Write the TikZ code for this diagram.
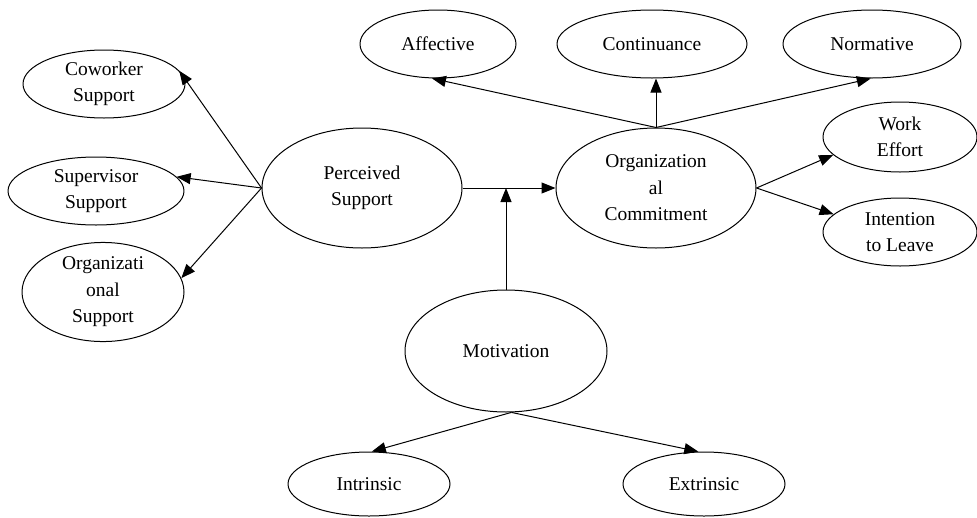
\documentclass[tikz,border=0pt]{standalone}
\usepackage{fontspec}
\setmainfont{Liberation Serif}
\usetikzlibrary{shapes.geometric, arrows.meta, calc}
\tikzset{>={Triangle[length=14pt, width=11pt]}}
\tikzset{every text node part/.style={align=center}}
\tikzset{bubble/.style={draw, ellipse, inner sep=0pt, font=\fontsize{19.5}{26.5}\selectfont}}
\newcommand{\bub}[5]{\node[bubble, minimum width=#3pt, minimum height=#4pt] (#1) at #2 {#5};}

\begin{document}
\begin{tikzpicture}[x=1pt, y=-1pt, line width=1pt, line join=round]
	\useasboundingbox (0,0) rectangle (977,517);

	% Support side
	\bub{cw}{(104,84)}{162}{68}{Coworker\\Support}
	\bub{sv}{(96,191)}{176}{68}{Supervisor\\Support}
	\bub{os}{(103,292)}{162}{82}{Organizati\\onal\\Support}
	\bub{ps}{(362,188)}{200}{120}{Perceived\\Support}

	% Commitment side
	\bub{oc}{(656,188)}{200}{120}{Organization\\al\\Commitment}
	\bub{af}{(438,44)}{156}{68}{Affective}
	\bub{co}{(652,44)}{190}{68}{Continuance}
	\bub{nm}{(872,44)}{178}{68}{Normative}
	\bub{we}{(900,137)}{154}{70}{Work\\Effort}
	\bub{il}{(900,232)}{154}{68}{Intention\\to Leave}

	% Motivation
	\bub{mo}{(506,351)}{202}{122}{Motivation}
	\bub{in}{(369,484)}{162}{64}{Intrinsic}
	\bub{ex}{(704,484)}{162}{64}{Extrinsic}

	% Arrows
	\draw[->] (ps.west) -- (cw.10);
	\draw[->] (ps.west) -- (sv.10);
	\draw[->] (ps.west) -- (os.10);
	\draw[->] (ps.east) -- (oc.west);
	\coordinate (join) at ($(ps.east)!(mo.north)!(oc.west)$);
	\draw[->] (mo.north) -- (join);

	\draw[->] (oc.north) -- (af.-100);
	\draw[->] (oc.north) -- (oc.north |- co.south);
	\draw[->] (oc.north) -- (nm.-92);
	\draw[->] (oc.east) -- (we.195);
	\draw[->] (oc.east) -- (il.165);

	\draw[->] (mo.-85) -- (in.85);
	\draw[->] (mo.-85) -- (ex.100);
\end{tikzpicture}
\end{document}
